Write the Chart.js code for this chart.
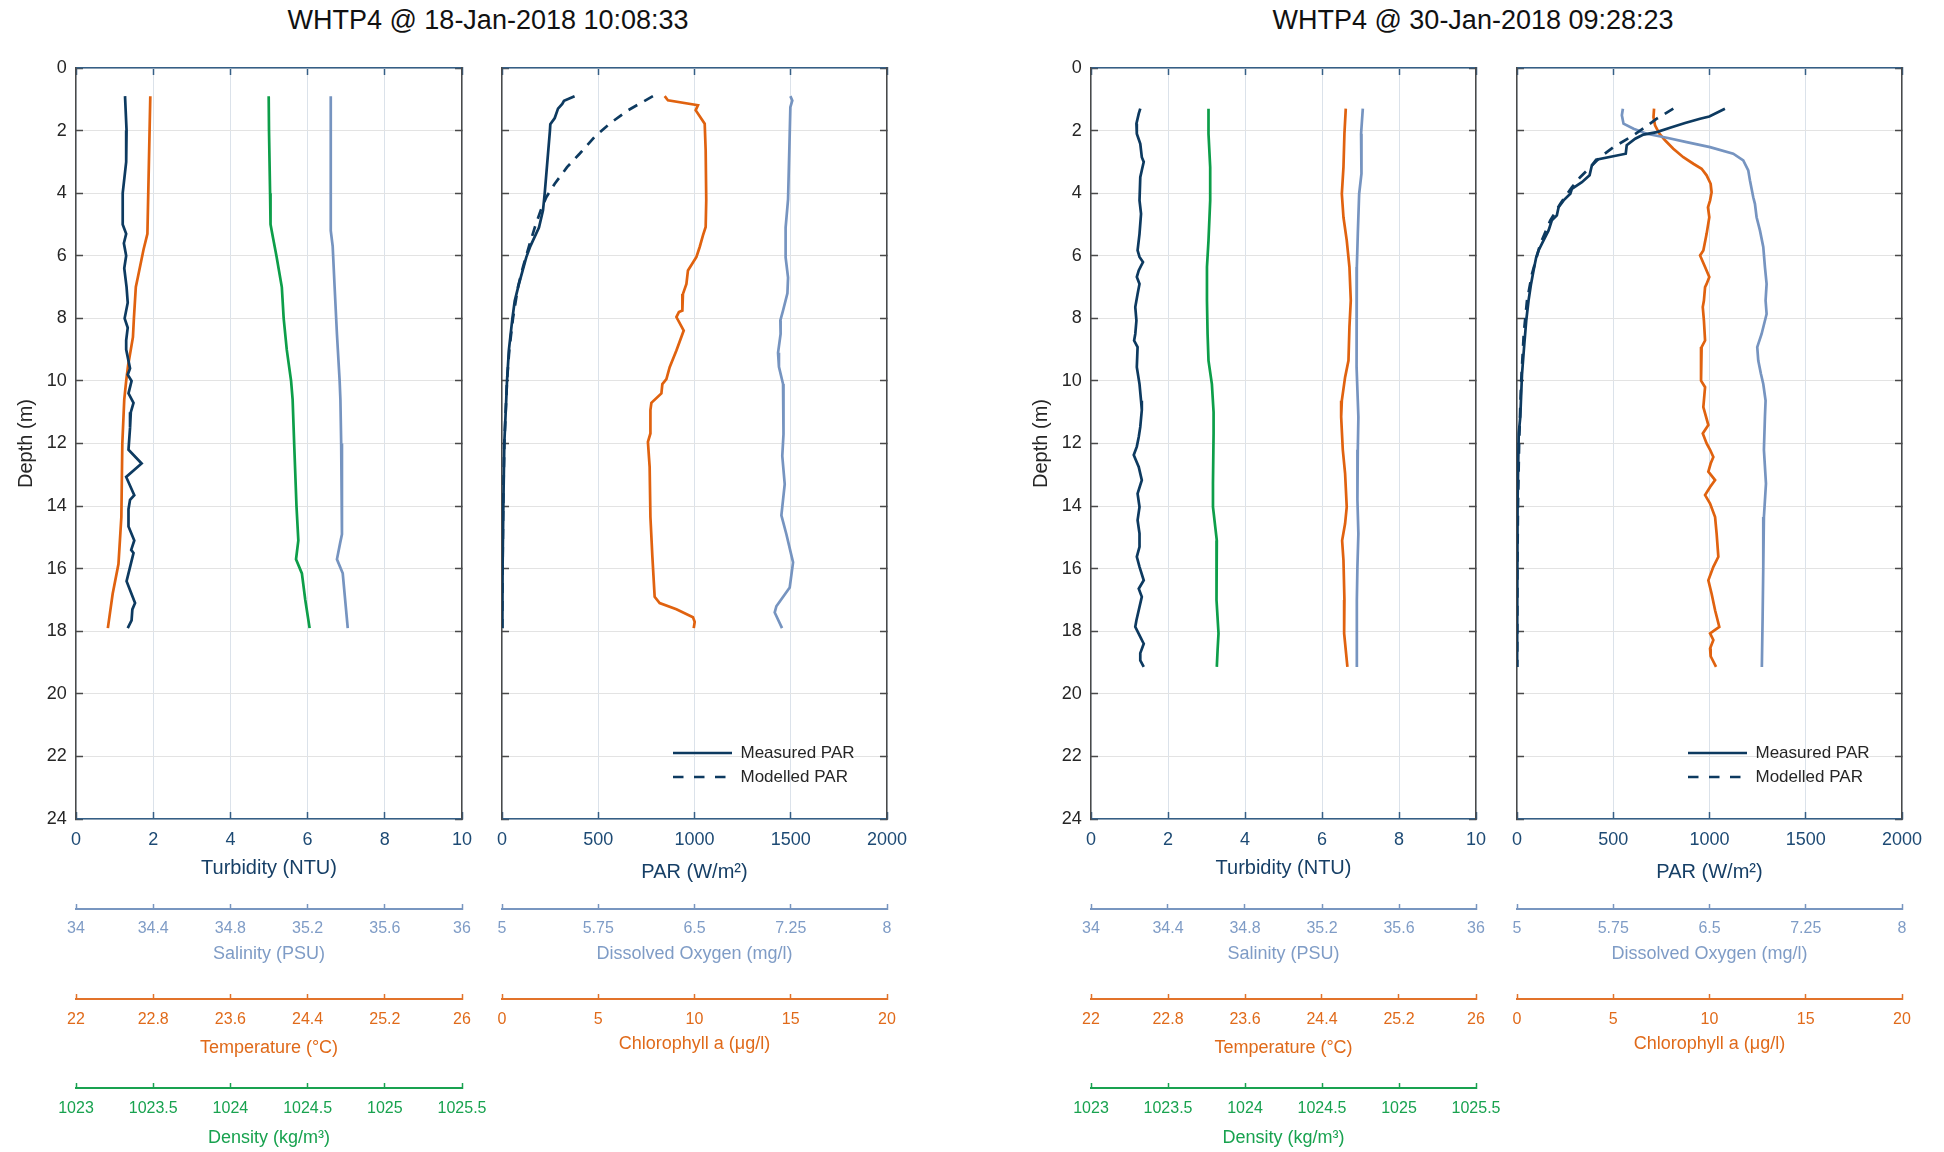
<!DOCTYPE html>
<html>
<head>
<meta charset="utf-8">
<title>WHTP4 profiles</title>
<script src="https://cdn.jsdelivr.net/npm/chart.js@4.4.1/dist/chart.umd.min.js"></script>
<style>
    html, body { margin: 0; padding: 0; background: #fff; }
    body {
        position: relative; width: 1944px; height: 1152px; overflow: hidden;
        font-family: "Liberation Sans", Arial, Helvetica, sans-serif;
    }
    .panel { position: absolute; top: 0; }
    .title {
        position: absolute; top: 7px; width: 800px; text-align: center;
        font-size: 27px; line-height: 27px; color: #111; white-space: nowrap;
    }
</style>
</head>
<body>
<div class="title" style="left:88px">WHTP4 @ 18-Jan-2018 10:08:33</div>
<div class="title" style="left:1073px">WHTP4 @ 30-Jan-2018 09:28:23</div>
<canvas id="turbA" class="panel" style="left:0px" width="520" height="1152"></canvas>
<canvas id="parA" class="panel" style="left:440px" width="520" height="1152"></canvas>
<canvas id="turbB" class="panel" style="left:960px" width="560" height="1152"></canvas>
<canvas id="parB" class="panel" style="left:1460px" width="484" height="1152"></canvas>
<script>
/**
 * =========================================
 * CTD PROFILES - WHTP4
 * =========================================
 * Two casts, each drawn as a physical panel and a light/bio panel
 */

// ---- tick labels ----
const depthTicks = [0, 2, 4, 6, 8, 10, 12, 14, 16, 18, 20, 22, 24];
const turbTicks = [0, 2, 4, 6, 8, 10];
const parTicks = [0, 500, 1000, 1500, 2000];
const salTicks = [34, 34.4, 34.8, 35.2, 35.6, 36];
const tempTicks = [22, 22.8, 23.6, 24.4, 25.2, 26];
const denTicks = [1023, 1023.5, 1024, 1024.5, 1025, 1025.5];
const doTicks = [5, 5.75, 6.5, 7.25, 8];
const chlTicks = [0, 5, 10, 15, 20];

// ---- cast A : 18-Jan-2018 ----
const turbDepthA = [0.9, 2.0, 3.0, 4.0, 5.0, 5.3, 5.6, 6.0, 6.4, 7.0, 7.5, 8.0, 8.3, 8.7, 9.0, 9.6, 9.8, 10.0, 10.4, 10.7, 11.0, 11.5, 12.2, 12.64, 13.07, 13.65, 13.8, 14.1, 14.65, 15.1, 15.4, 15.5, 15.8, 16.4, 17.1, 17.3, 17.65, 17.9];
const turbA = [1.27, 1.31, 1.30, 1.21, 1.21, 1.30, 1.24, 1.30, 1.25, 1.31, 1.34, 1.26, 1.34, 1.30, 1.30, 1.40, 1.34, 1.44, 1.36, 1.49, 1.42, 1.40, 1.36, 1.70, 1.30, 1.51, 1.40, 1.36, 1.36, 1.51, 1.43, 1.49, 1.43, 1.31, 1.53, 1.46, 1.44, 1.34];

const salDepthA = [0.9, 5.2, 5.7, 7.0, 8.5, 10.0, 10.6, 12.0, 14.9, 15.2, 15.7, 16.15, 17.9];
const salA = [35.32, 35.32, 35.33, 35.34, 35.352, 35.366, 35.37, 35.374, 35.378, 35.368, 35.352, 35.382, 35.408];

const tempDepthA = [0.9, 5.3, 5.8, 6.7, 7.0, 8.0, 8.6, 9.5, 10.0, 10.6, 12.0, 14.35, 15.85, 16.8, 17.9];
const tempA = [22.77, 22.74, 22.70, 22.64, 22.62, 22.60, 22.59, 22.54, 22.52, 22.50, 22.48, 22.47, 22.44, 22.38, 22.33];

const denDepthA = [0.9, 2, 4, 5, 5.4, 6, 7, 8, 9, 10, 10.6, 12, 14, 15.1, 15.7, 16.15, 17, 17.9];
const denA = [1024.248, 1024.25, 1024.257, 1024.26, 1024.275, 1024.298, 1024.333, 1024.345, 1024.365, 1024.393, 1024.403, 1024.413, 1024.428, 1024.44, 1024.425, 1024.463, 1024.485, 1024.513];

const parDepthA = [0.9, 1.05, 1.15, 1.3, 1.6, 1.8, 2.0, 4.0, 4.55, 5.1, 5.7, 6.05, 6.5, 6.9, 7.45, 8.0, 9.0, 10.0, 10.6, 12, 14, 16, 17.9];
const parA = [377, 322, 313, 291, 274, 251, 249, 222, 213, 192, 147, 126, 106, 88, 66, 54, 36, 26, 22, 12, 7, 3, 2];

const parModDepthA = [0.9, 1.35, 1.78, 2.2, 2.74, 3.17, 3.7, 4.13, 4.55, 5.1, 5.7, 6.36, 7.0, 8.0, 9.0, 10.0, 12.0, 14.0, 16.0, 17.9];
const parModA = [784, 655, 559, 481, 403, 338, 274, 230, 201, 170, 140, 109, 83, 57, 38, 26, 12, 6, 3, 1];

const doDepthA = [0.9, 1.04, 1.25, 2.1, 4.2, 5.1, 6.05, 6.7, 7.2, 7.75, 8.07, 8.5, 9.1, 9.55, 10.1, 10.6, 11.7, 12.4, 13.3, 14.3, 14.9, 15.8, 16.6, 17.2, 17.4, 17.9];
const doA = [7.247, 7.262, 7.247, 7.242, 7.229, 7.210, 7.210, 7.229, 7.224, 7.190, 7.169, 7.171, 7.151, 7.158, 7.190, 7.190, 7.197, 7.184, 7.203, 7.177, 7.216, 7.268, 7.242, 7.138, 7.125, 7.182];

const chlDepthA = [0.9, 1.03, 1.19, 1.35, 1.78, 2.63, 4.23, 5.08, 5.35, 5.72, 6.04, 6.47, 6.9, 7.22, 7.75, 7.8, 7.96, 8.39, 9.03, 9.56, 9.94, 10.1, 10.4, 10.7, 10.93, 11.68, 11.95, 12.75, 14.35, 15.6, 16.9, 17.1, 17.3, 17.55, 17.7, 17.9];
const chlA = [8.45, 8.62, 10.18, 10.06, 10.53, 10.58, 10.61, 10.58, 10.44, 10.27, 10.10, 9.66, 9.58, 9.40, 9.37, 9.19, 9.06, 9.44, 9.06, 8.71, 8.54, 8.33, 8.28, 7.76, 7.71, 7.71, 7.58, 7.67, 7.71, 7.81, 7.93, 8.19, 9.06, 9.92, 10.01, 9.96];

// ---- cast B : 30-Jan-2018 ----
const turbDepthB = [1.3, 1.46, 1.78, 2.1, 2.42, 2.85, 3.0, 3.27, 3.49, 4.23, 4.66, 5.3, 5.83, 6.04, 6.2, 6.47, 6.68, 6.9, 7.22, 7.64, 8.07, 8.5, 8.71, 8.92, 9.56, 10.1, 10.63, 10.93, 11.47, 11.79, 12.1, 12.37, 12.75, 13.17, 13.6, 14.03, 14.45, 14.88, 15.3, 15.62, 15.94, 16.37, 16.64, 16.9, 17.65, 17.86, 18.18, 18.4, 18.7, 18.93, 19.14];
const turbB = [1.28, 1.24, 1.18, 1.19, 1.28, 1.32, 1.37, 1.32, 1.28, 1.26, 1.30, 1.26, 1.21, 1.26, 1.35, 1.24, 1.19, 1.26, 1.21, 1.15, 1.18, 1.15, 1.12, 1.21, 1.19, 1.26, 1.30, 1.32, 1.28, 1.24, 1.19, 1.11, 1.24, 1.32, 1.21, 1.26, 1.21, 1.26, 1.26, 1.19, 1.26, 1.37, 1.24, 1.32, 1.18, 1.15, 1.28, 1.37, 1.28, 1.28, 1.37];

const salDepthB = [1.3, 2.1, 2.63, 3.38, 4.02, 5.3, 6.36, 7.43, 8.5, 9.56, 11.16, 12.2, 13.8, 14.88, 15.94, 17.0, 18.07, 19.14];
const salB = [35.412, 35.403, 35.407, 35.403, 35.393, 35.386, 35.381, 35.381, 35.377, 35.381, 35.389, 35.386, 35.384, 35.389, 35.384, 35.381, 35.381, 35.381];

const tempDepthB = [1.3, 2.1, 3.17, 4.02, 4.77, 5.51, 6.36, 7.43, 8.28, 9.35, 9.88, 10.63, 11.15, 12.2, 12.96, 14.03, 14.56, 15.1, 15.73, 17.0, 18.07, 18.7, 19.14];
const tempB = [24.647, 24.633, 24.623, 24.606, 24.623, 24.657, 24.685, 24.699, 24.685, 24.675, 24.640, 24.606, 24.599, 24.616, 24.640, 24.657, 24.640, 24.609, 24.623, 24.633, 24.630, 24.650, 24.664];

const denDepthB = [1.3, 2.1, 3.17, 4.23, 5.51, 6.36, 7.43, 8.5, 9.35, 10.1, 11.0, 11.68, 13.28, 14.03, 14.67, 15.1, 15.94, 17.0, 18.07, 18.6, 19.14];
const denB = [1023.763, 1023.763, 1023.774, 1023.774, 1023.763, 1023.753, 1023.753, 1023.757, 1023.763, 1023.785, 1023.796, 1023.796, 1023.792, 1023.792, 1023.807, 1023.817, 1023.813, 1023.817, 1023.828, 1023.822, 1023.817];

const parDepthB = [1.3, 1.55, 1.62, 1.76, 1.91, 2.05, 2.13, 2.26, 2.47, 2.74, 2.93, 3.11, 3.43, 3.65, 3.86, 4.02, 4.23, 4.45, 4.71, 4.87, 5.19, 5.51, 5.83, 6.04, 6.47, 6.9, 7.43, 8.07, 8.82, 9.78, 11.16, 11.68, 13.81, 15.94, 19.14];
const parB = [1080, 999, 951, 873, 795, 726, 657, 614, 570, 565, 411, 389, 377, 337, 285, 277, 242, 216, 207, 181, 164, 138, 112, 100, 86, 73, 60, 48, 38, 26, 17, 9, 3, 1, 0];

const parModDepthB = [1.3, 1.62, 1.89, 2.15, 2.53, 2.85, 3.22, 3.49, 3.81, 4.34, 4.87, 5.62, 6.58, 7.43, 8.5, 10.1, 12, 14, 16, 19.14];
const parModB = [812, 726, 666, 605, 501, 432, 372, 328, 285, 225, 173, 121, 78, 52, 35, 21, 11, 5, 2, 1];

const doDepthB = [1.3, 1.51, 1.78, 1.94, 2.1, 2.23, 2.37, 2.53, 2.74, 2.95, 3.27, 3.59, 4.13, 4.34, 4.77, 5.19, 5.72, 6.36, 6.9, 7.43, 7.86, 8.5, 8.92, 9.35, 9.78, 10.1, 10.63, 11.15, 12.2, 13.28, 14.35, 15.94, 17.54, 19.14];
const doB = [5.825, 5.817, 5.830, 5.908, 6.011, 6.167, 6.322, 6.504, 6.685, 6.763, 6.802, 6.815, 6.841, 6.854, 6.867, 6.893, 6.919, 6.932, 6.945, 6.937, 6.945, 6.906, 6.872, 6.880, 6.901, 6.919, 6.937, 6.932, 6.924, 6.940, 6.924, 6.919, 6.914, 6.908];

const chlDepthB = [1.3, 1.57, 1.83, 2.1, 2.31, 2.58, 2.85, 3.06, 3.22, 3.43, 3.7, 3.97, 4.23, 4.45, 4.77, 5.3, 5.83, 5.99, 6.36, 6.68, 6.9, 7.0, 7.43, 7.64, 8.07, 8.71, 8.92, 9.99, 10.2, 10.84, 11.41, 11.68, 12.0, 12.2, 12.43, 12.64, 12.9, 13.17, 13.39, 13.65, 13.92, 14.35, 14.88, 15.62, 15.94, 16.37, 16.8, 17.33, 17.86, 18.07, 18.28, 18.55, 18.8, 19.14];
const chlB = [7.12, 7.09, 7.17, 7.40, 7.69, 8.12, 8.64, 9.16, 9.59, 9.85, 10.06, 10.11, 10.03, 9.92, 9.99, 9.85, 9.68, 9.51, 9.77, 9.99, 9.85, 9.77, 9.71, 9.65, 9.71, 9.77, 9.59, 9.56, 9.77, 9.68, 9.94, 9.65, 9.85, 10.03, 10.20, 10.06, 9.94, 10.29, 10.03, 9.77, 10.03, 10.29, 10.37, 10.46, 10.20, 9.94, 10.11, 10.29, 10.51, 10.03, 10.20, 10.03, 10.06, 10.34];

// ---- colours ----
const NAVY = '#0d3a60';
const STEEL = '#7694c0';
const ORANGE = '#e0620f';
const GREEN = '#0d9e49';
const AXIS_BLUE = '#355f86';
const AXIS_GREY = '#4a4a4a';

const LINE_WIDTH = 2.7;
const CURVE_DASH = [10, 8];
const LEGEND_DASH = [10.5, 10.5];

const FONT = '"Liberation Sans", Arial, Helvetica, sans-serif';
Chart.defaults.font.family = FONT;
Chart.defaults.color = '#262626';
Chart.defaults.animation = false;

/**
 * Small helpers for the scale callbacks
 */
function fixedTicks(values) {
    return scale => { scale.ticks = values.map(v => ({ value: v })); };
}

function fixedSize(size) {
    return scale => {
        if (scale.isHorizontal()) scale.height = size;
        else scale.width = size;
    };
}

function toPoints(depths, values) {
    return depths.map((d, i) => ({ x: values[i], y: d }));
}

function series(label, depths, values, color, axis, extra) {
    return Object.assign({
        label: label,
        data: toPoints(depths, values),
        xAxisID: axis,
        yAxisID: 'y',
        borderColor: color,
        backgroundColor: color,
        borderWidth: LINE_WIDTH,
        pointRadius: 0,
        pointHoverRadius: 0,
        tension: 0,
        fill: false
    }, extra || {});
}

/**
 * Axis builders (MATLAB style: ticks pointing inwards)
 */
function mainAxis(min, max, ticks, title, titlePad) {
    return {
        type: 'linear', position: 'bottom', min: min, max: max, weight: 0,
        afterBuildTicks: fixedTicks(ticks),
        afterFit: fixedSize(90),
        grid: { color: '#dbe2ea', lineWidth: 1, tickLength: -7, tickColor: AXIS_BLUE, tickWidth: 1.5 },
        border: { color: AXIS_BLUE, width: 1.5 },
        ticks: {
            color: '#1d4a74', font: { size: 18 }, padding: 17.7,
            maxRotation: 0, minRotation: 0, autoSkip: false,
            callback: v => String(v)
        },
        title: {
            display: true, text: title, color: '#163f66',
            font: { size: 20 }, padding: { top: 0, bottom: titlePad }
        }
    };
}

function topAxis(min, max, ticks) {
    return {
        type: 'linear', position: 'top', min: min, max: max,
        afterBuildTicks: fixedTicks(ticks),
        afterFit: fixedSize(0),
        grid: { drawOnChartArea: false, tickLength: -7, tickColor: AXIS_BLUE, tickWidth: 1.5 },
        border: { color: AXIS_BLUE, width: 1.5 },
        ticks: { display: false }
    };
}

function depthAxis(showLabels, width) {
    return {
        type: 'linear', position: 'left', min: 0, max: 24, reverse: true,
        afterBuildTicks: fixedTicks(depthTicks),
        afterFit: fixedSize(width),
        grid: { color: '#e3e3e3', lineWidth: 1, tickLength: -7, tickColor: AXIS_GREY, tickWidth: 1.5 },
        border: { color: AXIS_GREY, width: 1.5 },
        ticks: {
            display: showLabels, color: '#262626', font: { size: 18 }, padding: 16.3,
            autoSkip: false, callback: v => String(v)
        },
        title: {
            display: showLabels, text: 'Depth (m)', color: '#262626',
            font: { size: 20 }, padding: { top: 14, bottom: 0 }
        }
    };
}

function rightAxis() {
    return {
        type: 'linear', position: 'right', min: 0, max: 24, reverse: true,
        afterBuildTicks: fixedTicks(depthTicks),
        afterFit: fixedSize(0),
        grid: { drawOnChartArea: false, tickLength: -7, tickColor: AXIS_GREY, tickWidth: 1.5 },
        border: { color: AXIS_GREY, width: 1.5 },
        ticks: { display: false }
    };
}

// extra x axes stacked under the plot, one per variable
function subAxis(s, weight) {
    return {
        type: 'linear', position: 'bottom', min: s.min, max: s.max, weight: weight,
        afterBuildTicks: fixedTicks(s.ticks),
        afterFit: fixedSize(s.height),
        grid: { drawOnChartArea: false, tickLength: -5, tickColor: s.line, tickWidth: 1.5 },
        border: { color: s.line, width: 2 },
        ticks: {
            color: s.text, font: { size: 16 }, padding: s.labelPad,
            maxRotation: 0, minRotation: 0, autoSkip: false,
            callback: v => String(v)
        },
        title: {
            display: true, text: s.title, color: s.text,
            font: { size: 18 }, padding: { top: 0, bottom: s.titlePad }
        }
    };
}

// legend sits in the lower right corner of the plot box
const legendCorner = {
    id: 'legendCorner',
    afterLayout(chart) {
        const lg = chart.legend;
        if (!lg || !lg.options.display) return;
        const a = chart.chartArea;
        lg.left = a.left + 164;
        lg.right = lg.left + lg.width;
        lg.bottom = a.bottom - 26.5;
        lg.top = lg.bottom - lg.height;
    }
};

// point-style legend items lose the dataset dash, so put it back
function lineLegendLabels(chart) {
    const items = Chart.defaults.plugins.legend.labels.generateLabels(chart);
    items.forEach(item => {
        const ds = chart.data.datasets[item.datasetIndex];
        item.lineWidth = ds.borderWidth;
        item.strokeStyle = ds.borderColor;
        item.lineDash = ds.borderDash ? LEGEND_DASH : [];
    });
    return items;
}

function buildPanel(canvasId, cfg) {
    const scales = {
        x: mainAxis(cfg.min, cfg.max, cfg.ticks, cfg.title, cfg.titlePad),
        xTop: topAxis(cfg.min, cfg.max, cfg.ticks),
        y: depthAxis(cfg.showDepth, cfg.depthWidth),
        yRight: rightAxis()
    };
    cfg.subAxes.forEach((s, i) => { scales[s.id] = subAxis(s, i + 1); });

    return new Chart(document.getElementById(canvasId), {
        type: 'line',
        data: { datasets: cfg.datasets },
        options: {
            responsive: false,
            animation: false,
            events: [],
            layout: { padding: cfg.padding },
            scales: scales,
            plugins: {
                tooltip: { enabled: false },
                legend: cfg.legend ? {
                    display: true,
                    position: 'chartArea',
                    align: 'end',
                    labels: {
                        usePointStyle: true,
                        pointStyle: 'line',
                        pointStyleWidth: 59,
                        boxHeight: 17,
                        color: '#262626',
                        font: { size: 17 },
                        padding: 7,
                        generateLabels: lineLegendLabels,
                        filter: item => item.datasetIndex < 2
                    }
                } : { display: false }
            }
        },
        plugins: cfg.legend ? [legendCorner] : []
    });
}

// sub-axis descriptions
const salAxis = { id: 'xSal', min: 34, max: 36, ticks: salTicks, title: 'Salinity (PSU)', line: '#7896c0', text: '#7f9cc6', height: 90, labelPad: 15.4, titlePad: 34.2 };
const tempAxis = { id: 'xTemp', min: 22, max: 26, ticks: tempTicks, title: 'Temperature (°C)', line: '#e2732a', text: '#e06a1a', height: 89, labelPad: 16.4, titlePad: 29.2 };
const denAxis = { id: 'xDen', min: 1023, max: 1025.5, ticks: denTicks, title: 'Density (kg/m³)', line: '#19a250', text: '#18a24f', height: 64, labelPad: 16.4, titlePad: 3.2 };
const doAxis = { id: 'xDO', min: 5, max: 8, ticks: doTicks, title: 'Dissolved Oxygen (mg/l)', line: '#7896c0', text: '#7f9cc6', height: 90, labelPad: 15.4, titlePad: 34.2 };
const chlAxis = { id: 'xChl', min: 0, max: 20, ticks: chlTicks, title: 'Chlorophyll a (μg/l)', line: '#e2732a', text: '#e06a1a', height: 89, labelPad: 16.4, titlePad: 33.2 };

// ---- 18-Jan-2018 ----
buildPanel('turbA', {
    min: 0, max: 10, ticks: turbTicks, title: 'Turbidity (NTU)', titlePad: 29,
    showDepth: true, depthWidth: 76,
    padding: { left: 0, right: 58, top: 68, bottom: 0 },
    subAxes: [salAxis, tempAxis, denAxis],
    datasets: [
        series('Turbidity', turbDepthA, turbA, NAVY, 'x'),
        series('Salinity', salDepthA, salA, STEEL, 'xSal'),
        series('Temperature', tempDepthA, tempA, ORANGE, 'xTemp'),
        series('Density', denDepthA, denA, GREEN, 'xDen')
    ]
});

buildPanel('parA', {
    min: 0, max: 2000, ticks: parTicks, title: 'PAR (W/m²)', titlePad: 25,
    showDepth: false, depthWidth: 0, legend: true,
    padding: { left: 62, right: 73, top: 68, bottom: 64 },
    subAxes: [doAxis, chlAxis],
    datasets: [
        series('Measured PAR', parDepthA, parA, NAVY, 'x'),
        series('Modelled PAR', parModDepthA, parModA, NAVY, 'x', { borderDash: CURVE_DASH }),
        series('Dissolved Oxygen', doDepthA, doA, STEEL, 'xDO'),
        series('Chlorophyll a', chlDepthA, chlA, ORANGE, 'xChl')
    ]
});

// ---- 30-Jan-2018 ----
buildPanel('turbB', {
    min: 0, max: 10, ticks: turbTicks, title: 'Turbidity (NTU)', titlePad: 29,
    showDepth: true, depthWidth: 76,
    padding: { left: 55, right: 44, top: 68, bottom: 0 },
    subAxes: [salAxis, tempAxis, denAxis],
    datasets: [
        series('Turbidity', turbDepthB, turbB, NAVY, 'x'),
        series('Salinity', salDepthB, salB, STEEL, 'xSal'),
        series('Temperature', tempDepthB, tempB, ORANGE, 'xTemp'),
        series('Density', denDepthB, denB, GREEN, 'xDen')
    ]
});

buildPanel('parB', {
    min: 0, max: 2000, ticks: parTicks, title: 'PAR (W/m²)', titlePad: 25,
    showDepth: false, depthWidth: 0, legend: true,
    padding: { left: 57, right: 42, top: 68, bottom: 64 },
    subAxes: [doAxis, chlAxis],
    datasets: [
        series('Measured PAR', parDepthB, parB, NAVY, 'x'),
        series('Modelled PAR', parModDepthB, parModB, NAVY, 'x', { borderDash: CURVE_DASH }),
        series('Dissolved Oxygen', doDepthB, doB, STEEL, 'xDO'),
        series('Chlorophyll a', chlDepthB, chlB, ORANGE, 'xChl')
    ]
});
</script>
</body>
</html>
